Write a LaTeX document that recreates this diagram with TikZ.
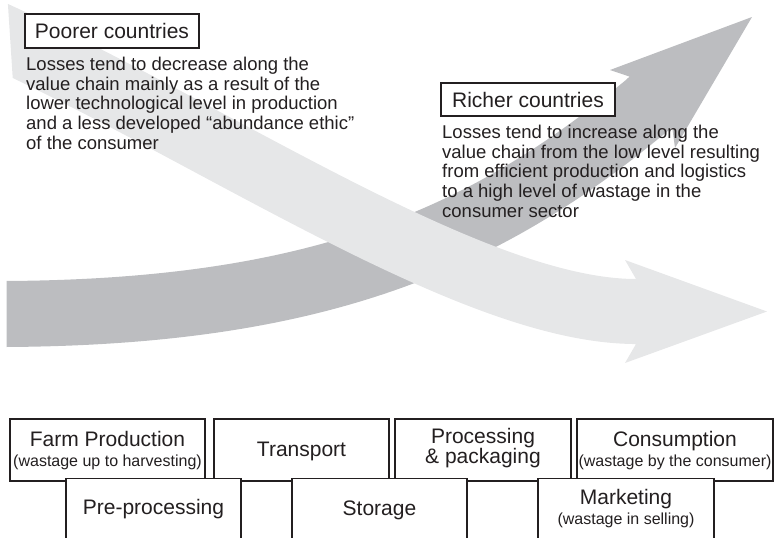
\documentclass[tikz,border=0pt]{standalone}
\usepackage{fontspec}
\setmainfont{Liberation Sans}
\definecolor{lightband}{HTML}{E6E7E8}
\definecolor{darkband}{HTML}{BCBDC0}
\definecolor{ink}{HTML}{231F20}
\tikzset{
  stagebox/.style={draw=ink, line width=1.1pt, fill=white, inner sep=0pt},
  headbox/.style={draw=ink, line width=1.1pt, fill=white, inner sep=0pt,
    minimum height=34pt, minimum width=174pt, font=\fontsize{21}{24}\selectfont, text=ink},
  bodytext/.style={inner sep=0pt, align=left, font=\fontsize{18.5}{19.8}\selectfont, text=ink},
  titletext/.style={inner sep=0pt, anchor=base, font=\fontsize{21}{24}\selectfont, text=ink},
  subtext/.style={inner sep=0pt, anchor=base, font=\fontsize{16}{19}\selectfont, text=ink},
}
\begin{document}
\begin{tikzpicture}[x=1pt,y=-1pt]
\useasboundingbox (0,0) rectangle (774,538);
\clip (0,0) rectangle (774,538);

% dark (richer countries) arrow
\begin{scope}
  \clip (6.5,-10) rectangle (780,545);
  \draw[darkband, line width=66pt] (-20,314) .. controls (310,316) and (482.5,243.4) .. (651,102);
\end{scope}
\fill[darkband] (626.7,79.3) -- (629.8,76.7) -- (610,70) -- (752,17) -- (675,148) -- (672.2,127.3) -- (669.1,129.9) -- cycle;

% light (poorer countries) arrow
\begin{scope}
  \clip (7,-10) -- (13.5,90) -- (13.5,545) -- (780,545) -- (780,-10) -- cycle;
  \draw[lightband, line width=65pt] (-20,27) .. controls (208.5,128.75) and (470,311.5) .. (636,311.5);
\end{scope}
\fill[lightband] (632,279) -- (636,279) -- (625,260) -- (767,311.5) -- (625,363) -- (636,344) -- (632,344) -- cycle;

% labels
\node[headbox] (poor) at (112,31) {Poorer countries};
\node[bodytext, anchor=north west] (poorbody) at (26,56.6)
  {Losses tend to decrease along the\\value chain mainly as a result of the\\lower technological level in production\\and a less developed “abundance ethic”\\of the consumer};

\node[headbox, minimum height=33pt] (rich) at (528,99.5) {Richer countries};
\node[bodytext, anchor=north west] (richbody) at (442,124.6)
  {Losses tend to increase along the\\value chain from the low level resulting\\from efficient production and logistics\\to a high level of wastage in the\\consumer sector};

% value chain boxes, top row
\node[stagebox, minimum width=195pt, minimum height=62pt] (farm) at (107.5,450) {};
\node[stagebox, minimum width=175pt, minimum height=62pt] (transport) at (301.5,450) {};
\node[stagebox, minimum width=176pt, minimum height=62pt] (processing) at (483,450) {};
\node[stagebox, minimum width=196pt, minimum height=62pt] (consumption) at (675,450) {};
% bottom row
\node[stagebox, minimum width=175pt, minimum height=82pt, anchor=north] (pre) at (153.5,478) {};
\node[stagebox, minimum width=175pt, minimum height=82pt, anchor=north] (storage) at (379.5,478) {};
\node[stagebox, minimum width=176pt, minimum height=82pt, anchor=north] (marketing) at (626,478) {};

% box texts
\node[titletext] (farmT) at (107.5,446.7) {Farm Production};
\node[subtext] (farmS) at (107.5,466) {(wastage up to harvesting)};
\node[titletext] (transportT) at (301.5,456) {Transport};
\node[titletext] (processingT) at (483,443.3) {Processing};
\node[titletext] (processingT2) at (483,463) {\& packaging};
\node[titletext] (consumptionT) at (675,446.7) {Consumption};
\node[subtext] (consumptionS) at (675,466) {(wastage by the consumer)};
\node[titletext] (preT) at (153.5,514) {Pre-processing};
\node[titletext] (storageT) at (379.5,515) {Storage};
\node[titletext] (marketingT) at (626,504) {Marketing};
\node[subtext] (marketingS) at (626,524) {(wastage in selling)};
\end{tikzpicture}
\end{document}
